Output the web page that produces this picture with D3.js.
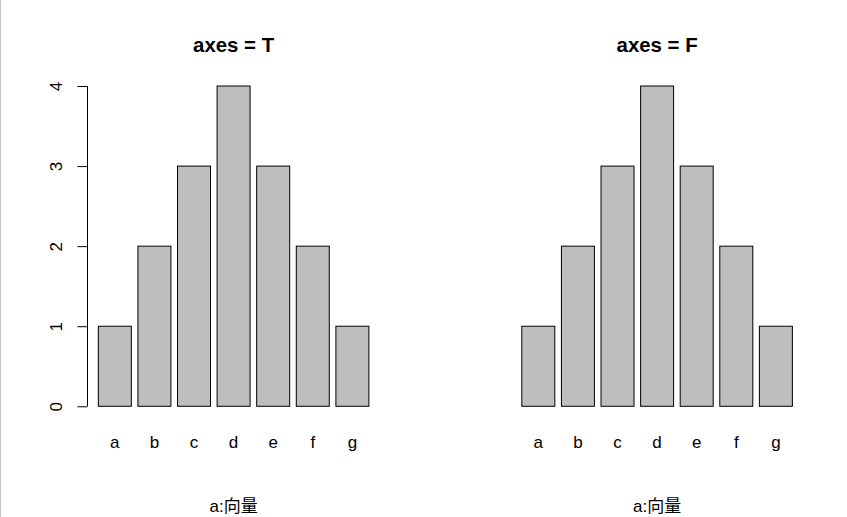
<!DOCTYPE html>
<html>
<head>
<meta charset="utf-8">
<script src="https://cdn.jsdelivr.net/npm/d3@7"></script>
<style>
  html, body { margin: 0; padding: 0; background: #fff; }
  svg { display: block; }
</style>
</head>
<body>
<script>
'use strict';

// data
const categories = ['a', 'b', 'c', 'd', 'e', 'f', 'g'];
const values = [1, 2, 3, 4, 3, 2, 1];
const yTicks = [0, 1, 2, 3, 4];
const panels = ['axes = T', 'axes = F'];
const showAxis = [true, false];
const xLabel = 'a:向量';

const W = 847, H = 517;
const FONT = '"Liberation Sans", Arial, "Noto Sans CJK SC", sans-serif';
const BAR_FILL = '#bebebe';

// R barplot layout: width 1, space 0.2, 4% axis padding
const barW = 1, space = 0.2;
const left = i => space + i * (barW + space);
const xMin = left(0), xMax = left(categories.length - 1) + barW;
const xPad = (xMax - xMin) * 0.04;
const yMax = d3.max(values);
const yPad = yMax * 0.04;

const svg = d3.select('body').append('svg')
  .attr('width', W).attr('height', H)
  .attr('viewBox', `0 0 ${W} ${H}`);
svg.append('rect').attr('width', W).attr('height', H).attr('fill', '#fff');
svg.append('line')
  .attr('x1', 0.5).attr('x2', 0.5).attr('y1', 0).attr('y2', H)
  .attr('stroke', '#c4c4c4').attr('stroke-width', 1);

const panelW = W / 2;

panels.forEach((title, p) => {
  const g = svg.append('g').attr('transform', `translate(${p * panelW},0)`);

  const x = d3.scaleLinear()
    .domain([xMin - xPad, xMax + xPad])
    .range([87.5, 379.7]);
  const y = d3.scaleLinear()
    .domain([-yPad, yMax + yPad])
    .range([419.1, 73.2]);

  // bars
  g.selectAll('rect.bar')
    .data(values)
    .join('rect')
    .attr('class', 'bar')
    .attr('x', (d, i) => x(left(i)))
    .attr('width', (d, i) => x(left(i) + barW) - x(left(i)))
    .attr('y', d => y(d))
    .attr('height', d => y(0) - y(d))
    .attr('fill', BAR_FILL)
    .attr('stroke', '#000')
    .attr('stroke-width', 1);

  // category names
  g.selectAll('text.cat')
    .data(categories)
    .join('text')
    .attr('class', 'cat')
    .attr('x', (d, i) => x(left(i) + barW / 2))
    .attr('y', 447.5)
    .attr('text-anchor', 'middle')
    .attr('font-family', FONT)
    .attr('font-size', 17)
    .attr('fill', '#000')
    .text(d => d);

  // y axis only when axes = T
  if (showAxis[p]) {
    const ax = g.append('g')
      .attr('transform', `translate(${x(xMin - xPad)},0)`)
      .call(d3.axisLeft(y).tickValues(yTicks).tickSize(10).tickFormat(d3.format('d')));
    ax.select('.domain').remove();
    ax.append('line')
      .attr('x1', 0).attr('x2', 0)
      .attr('y1', y(yTicks[0])).attr('y2', y(yTicks[yTicks.length - 1]))
      .attr('stroke', '#000');
    ax.selectAll('.tick line').attr('stroke', '#000');
    ax.selectAll('.tick text')
      .attr('x', null).attr('dy', null)
      .attr('transform', 'translate(-25.5,0) rotate(-90)')
      .attr('text-anchor', 'middle')
      .attr('font-family', FONT)
      .attr('font-size', 17)
      .attr('fill', '#000');
  }

  const cx = (x.range()[0] + x.range()[1]) / 2;

  g.append('text')
    .attr('x', cx).attr('y', 51.7)
    .attr('text-anchor', 'middle')
    .attr('font-family', FONT)
    .attr('font-size', 20.4)
    .attr('font-weight', 700)
    .attr('fill', '#000')
    .text(title);

  g.append('text')
    .attr('x', cx).attr('y', 512)
    .attr('text-anchor', 'middle')
    .attr('font-family', FONT)
    .attr('font-size', 17)
    .attr('fill', '#000')
    .text(xLabel);
});
</script>
</body>
</html>
